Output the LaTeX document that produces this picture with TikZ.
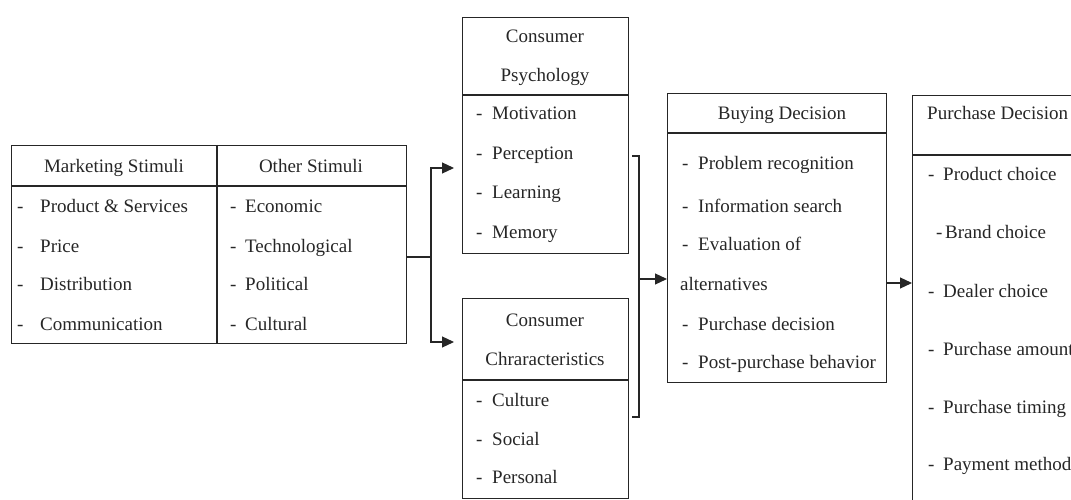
\documentclass[tikz,border=0pt]{standalone}
\usepackage{fontspec}
\setmainfont{Liberation Serif}
\usetikzlibrary{arrows.meta}
\tikzset{
  ln/.style={draw=black!85, line width=1.2pt},
  box/.style={ln, rectangle, inner sep=0pt, anchor=north west},
  txt/.style={inner sep=0pt, anchor=base west, text=black!85, font=\fontsize{19}{20}\selectfont},
  hdr/.style={txt, anchor=base},
  arr/.style={ln, -{Triangle[length=12pt,width=11pt]}}
}
\newcommand\itm[5]{\node[txt] (#1) at (#2,#4) {\makebox[0pt][l]{-}\hspace{#3pt}#5};}
\begin{document}
\begin{tikzpicture}[x=1pt,y=-1pt]
\path[use as bounding box] (0,0) rectangle (1071,500);
\clip (0,0) rectangle (1071,500);

% left table
\node[box, minimum width=395pt, minimum height=198pt] (lt) at (11,145) {};
\draw[ln] (lt.west |- 0,186) -- (lt.east |- 0,186);
\draw[ln] (217,145) -- (217,343);
\node[hdr] (h1) at (114,172) {Marketing Stimuli};
\node[hdr] (h2) at (311,172) {Other Stimuli};
\itm{m1}{17}{23}{212}{Product \& Services}
\itm{m2}{17}{23}{252}{Price}
\itm{m3}{17}{23}{290}{Distribution}
\itm{m4}{17}{23}{330}{Communication}
\itm{o1}{230}{15}{212}{Economic}
\itm{o2}{230}{15}{252}{Technological}
\itm{o3}{230}{15}{290}{Political}
\itm{o4}{230}{15}{330}{Cultural}

% consumer psychology
\node[box, minimum width=166pt, minimum height=236pt] (cp) at (462,17) {};
\draw[ln] (cp.west |- 0,95) -- (cp.east |- 0,95);
\node[hdr] (cph1) at (545,43) {Consumer};
\node[hdr] (cph2) at (545,82) {Psychology};
\itm{p1}{476}{16}{120}{Motivation}
\itm{p2}{476}{16}{160}{Perception}
\itm{p3}{476}{16}{198}{Learning}
\itm{p4}{476}{16}{238}{Memory}

% consumer characteristics
\node[box, minimum width=166pt, minimum height=200pt] (cc) at (462,298) {};
\draw[ln] (cc.west |- 0,380) -- (cc.east |- 0,380);
\node[hdr] (cch1) at (545,326) {Consumer};
\node[hdr] (cch2) at (545,365) {Chraracteristics};
\itm{c1}{476}{16}{406}{Culture}
\itm{c2}{476}{16}{445}{Social}
\itm{c3}{476}{16}{483}{Personal}

% buying decision
\node[box, minimum width=219pt, minimum height=289pt] (bd) at (667,93) {};
\draw[ln] (bd.west |- 0,133) -- (bd.east |- 0,133);
\node[hdr] (bdh) at (782,120) {Buying Decision};
\itm{b1}{682}{16}{169}{Problem recognition}
\itm{b2}{682}{16}{212}{Information search}
\itm{b3}{682}{16}{250}{Evaluation of}
\node[txt] (b4) at (680,290) {alternatives};
\itm{b5}{682}{16}{330}{Purchase decision}
\itm{b6}{682}{16}{368}{Post-purchase behavior}

% purchase decision
\node[box, minimum width=200pt, minimum height=430pt] (pd) at (912,95) {};
\draw[ln] (pd.west |- 0,155) -- (pd.east |- 0,155);
\node[txt] (pdh) at (927,120) {Purchase Decision};
\itm{q1}{928}{15}{180}{Product choice}
\itm{q2}{936}{9}{238}{Brand choice}
\itm{q3}{928}{15}{297}{Dealer choice}
\itm{q4}{928}{15}{355}{Purchase amount}
\itm{q5}{928}{15}{413}{Purchase timing}
\itm{q6}{928}{15}{470}{Payment method}

% connectors
\coordinate (j1) at (431,257);
\coordinate (a1) at (454,168);
\coordinate (a2) at (454,342);
\draw[ln] (lt.east |- j1) -- (j1);
\draw[arr] (j1) |- (a1);
\draw[arr] (j1) |- (a2);

\draw[ln] (632,156) -- (639,156) -- (639,417) -- (632,417);
\coordinate (j2) at (639,279);
\draw[arr] (j2) -- (bd.west |- j2);

\coordinate (j3) at (886,283);
\draw[arr] (bd.east |- j3) -- (pd.west |- j3);
\end{tikzpicture}
\end{document}
